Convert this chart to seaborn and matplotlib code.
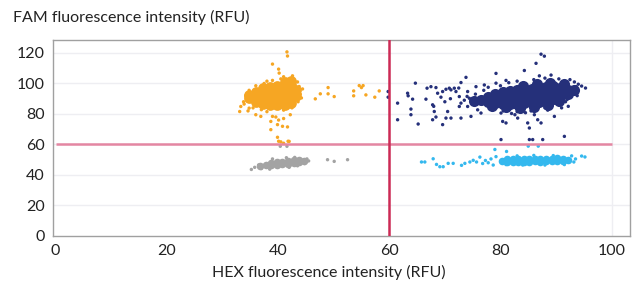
import numpy as np
import pandas as pd
import matplotlib.pyplot as plt
import seaborn as sns

# ── Data (HEX, FAM in RFU) ───────────────────────────────────────────────────

# dense centres of each cluster (drawn as larger, overlapping dots)
ORANGE_CORE = [
    (34.7, 90.5), (34.7, 92.5),
    (36.0, 88), (36.0, 91), (36.0, 94.5),
    (37.3, 86.5), (37.3, 89.5), (37.3, 92.5), (37.3, 95.5), (37.3, 97),
    (38.6, 86), (38.6, 89), (38.6, 92), (38.6, 95), (38.6, 98),
    (39.9, 86), (39.9, 89), (39.9, 92), (39.9, 95), (39.9, 98.5),
    (41.2, 86), (41.2, 89), (41.2, 92), (41.2, 95), (41.2, 98.5), (41.2, 101),
    (42.4, 87), (42.4, 90), (42.4, 93), (42.4, 96), (42.4, 99), (42.4, 101.5),
    (43.3, 92), (43.3, 95.5),
]
ORANGE_SPREAD = [
    (41.6, 120.7), (41.7, 118), (39.0, 112.7), (40.1, 109.4), (40.2, 106.8),
    (41.0, 104.4), (42.6, 105), (44.4, 96.4), (46.7, 89.9), (47.6, 93.2),
    (49.0, 97.3), (49.0, 93.2), (50.1, 91.4), (53.6, 95.1), (53.6, 91.9),
    (54.6, 98.6), (55.0, 97.3), (55.3, 98.6), (55.8, 92.5), (57.4, 91),
    (58.2, 95.1), (33.3, 84.9), (33.1, 81.6), (34.6, 82), (34.8, 83.8),
    (36.0, 79.5), (36.9, 78.4), (39.0, 78.4), (39.6, 78), (38.7, 75.1),
    (40.1, 76), (41.0, 77), (42.2, 79.5), (39.9, 73), (40.8, 71.9),
    (41.7, 71.5), (38.7, 69.7), (39.9, 64.7), (40.1, 62.1), (41.8, 62.1),
    (40.5, 61.7), (42.0, 62), (41.0, 60.8), (33.8, 88), (34.2, 92),
    (34.8, 95.5), (36.0, 98.5), (37.5, 100), (39.0, 102), (40.5, 103),
    (43.5, 101), (43.8, 98), (44.0, 93), (43.6, 88), (42.5, 84), (41.0, 82.5),
    (38.0, 81.5), (35.5, 84), (37.0, 82.8), (44.2, 90.5), (42.8, 102.5),
    (38.0, 101.5), (33.9, 86.5),
]

NAVY_CORE = [
    (75.2, 88.5), (76.5, 89.3), (77.8, 88), (77.8, 91),
    (79.1, 87), (79.1, 90), (79.1, 93),
    (80.4, 86.6), (80.4, 89.5), (80.4, 92.5), (80.4, 94.5),
    (81.7, 86.5), (81.7, 89.5), (81.7, 92.5), (81.7, 95),
    (83.0, 86.5), (83.0, 89.5), (83.0, 92.5), (83.0, 95.5),
    (84.3, 87), (84.3, 90), (84.3, 93), (84.3, 96),
    (85.6, 87.3), (85.6, 90.3), (85.6, 93.3), (85.6, 96.5),
    (86.9, 88), (86.9, 91), (86.9, 94), (86.9, 97.3),
    (88.2, 89), (88.2, 92), (88.2, 95), (88.2, 98),
    (89.5, 90), (89.5, 93), (89.5, 96), (89.5, 98.4),
    (90.8, 91.3), (90.8, 94.3), (90.8, 97.3),
    (92.1, 93), (92.1, 96), (93.2, 95.8),
    (78.5, 85.5), (81.0, 84.3), (83.5, 84), (86.0, 84.6), (88.5, 86.2),
    (90.5, 88.5), (84.0, 98.5), (86.5, 99.5), (89.0, 100.3), (91.5, 99.6),
]
NAVY_SPREAD = [
    (59.8, 94.7), (59.8, 91), (61.5, 87.1), (61.5, 76.2), (63.3, 93.6),
    (63.4, 91.9), (64.2, 89.7), (63.9, 83.2), (63.9, 79.5), (64.7, 100.2),
    (65.2, 73.4), (66.8, 96.9), (67.5, 97.9), (68.4, 97.3), (66.6, 89.7),
    (67.8, 86), (68.1, 81.6), (67.8, 76.2), (68.4, 78), (68.7, 93.6),
    (69.3, 91), (69.6, 94.7), (69.6, 73), (70.2, 96.2), (70.8, 96.9),
    (71.1, 95.8), (71.7, 96.9), (72.0, 94.7), (70.5, 81.6), (70.2, 77.3),
    (71.1, 77.3), (72.6, 91.4), (72.9, 87.1), (72.6, 84.9), (72.9, 100.6),
    (73.8, 104), (72.9, 77.3), (74.7, 78.4), (74.1, 94.7), (74.4, 90.3),
    (74.1, 84.9), (75.6, 97.9), (75.9, 82.7), (76.5, 80.6), (77.1, 99),
    (79.2, 106.6), (79.2, 100.2), (80.1, 80.6), (80.4, 75.1), (80.1, 63.2),
    (81.0, 74.1), (82.6, 79.5), (83.1, 77.3), (84.3, 108.5), (84.9, 74.1),
    (85.2, 63.2), (85.8, 63.2), (85.2, 70.8), (86.4, 113.2), (87.3, 119.2),
    (87.9, 117.9), (86.1, 79.5), (86.7, 76.2), (87.3, 74.1), (87.6, 63.2),
    (89.1, 105.5), (89.7, 78.4), (91.5, 65.3), (91.7, 88), (92.2, 85),
    (93.6, 97.9), (94.6, 98.3), (93.3, 101), (93.5, 95), (76.0, 87),
    (77.0, 95.5), (78.0, 83.5), (80.0, 98.5), (81.5, 100.5), (83.0, 101.5),
    (86.0, 102.5), (88.0, 103.5), (90.5, 103), (92.5, 102.5), (94.0, 99.5),
    (93.8, 92), (92.0, 89.5), (90.5, 86), (88.0, 84), (85.5, 82), (83.0, 81.5),
    (80.5, 82), (78.5, 85), (74.0, 91.5), (73.5, 89), (75.5, 93), (82.0, 80.3),
    (84.5, 80.8), (88.5, 82.5), (91.0, 84), (95.3, 97), (87.0, 105),
    (81.0, 102), (77.8, 97.5), (68.0, 85), (70.0, 88), (71.0, 90), (72.5, 97),
]

GREY_CORE = [
    (36.8, 45.8), (37.8, 46.2), (38.8, 46.5), (38.8, 48), (39.8, 46.7),
    (39.8, 48.3), (40.8, 47), (40.8, 48.8), (41.8, 47.4), (41.8, 49.2),
    (42.8, 47.9), (42.8, 49.6), (43.8, 48.5), (43.8, 49.9), (44.6, 49.3),
]
GREY_SPREAD = [
    (35.2, 43.6), (35.8, 45), (48.9, 50), (50.1, 48.9), (52.5, 50),
    (40.4, 58.8), (41.6, 58.8), (45.2, 50.5), (44.8, 47.5), (37.0, 44.2),
    (36.5, 46.5), (38.5, 43.8), (42.0, 45), (43.5, 46), (45.5, 49.2),
    (39.0, 50.5), (41.5, 51.3), (43.0, 51.5),
]

BLUE_CORE = [
    (80.2, 49), (81.2, 48.6), (81.2, 50.2), (82.2, 48.8), (82.2, 50.3),
    (83.2, 48.6), (83.2, 50.4), (84.2, 48.8), (84.2, 50.4), (85.2, 48.7),
    (85.2, 50.5), (86.2, 48.9), (86.2, 50.6), (87.2, 48.8), (87.2, 50.6),
    (88.2, 49), (88.2, 50.7), (89.2, 48.9), (89.2, 50.6), (90.2, 49.1),
    (90.2, 50.8), (91.2, 49.2), (91.2, 50.6), (92.2, 49.6),
]
BLUE_SPREAD = [
    (65.8, 48.5), (66.4, 48.5), (67.9, 50.6), (68.5, 46.9), (69.1, 45.4),
    (69.7, 45.4), (70.6, 47.6), (71.5, 47.6), (73.0, 46.3), (73.6, 47.6),
    (74.5, 48.5), (75.1, 49.6), (75.7, 48.5), (76.3, 51.7), (76.8, 47.5),
    (77.3, 49.5), (77.8, 48), (78.3, 50.5), (78.7, 46.5), (79.0, 56.7),
    (81.1, 55.4), (85.0, 58.9), (86.8, 58.9), (94.6, 52.4), (93.5, 50.5),
    (92.8, 52.5), (91.5, 46.8), (88.0, 46.5), (84.0, 46.5), (81.0, 46.8),
    (79.2, 52), (86.0, 52.8), (89.5, 52.7), (83.0, 52.5), (93.2, 48.5),
    (95.2, 51.8),
]

THRESHOLD_HEX = 60
THRESHOLD_FAM = 60

PALETTE = {
    "FAM+": "#F6A623",
    "FAM+HEX+": "#25307A",
    "neg": "#A3A3A3",
    "HEX+": "#34B8EE",
}
CORE_SIZE = {"FAM+": 60, "FAM+HEX+": 64, "neg": 30, "HEX+": 30}


def to_frame(points, cluster, layer):
    df = pd.DataFrame(points, columns=["HEX", "FAM"])
    df["cluster"] = cluster
    df["layer"] = layer
    return df


drops = pd.concat([
    to_frame(ORANGE_CORE, "FAM+", "core"),
    to_frame(ORANGE_SPREAD, "FAM+", "spread"),
    to_frame(NAVY_CORE, "FAM+HEX+", "core"),
    to_frame(NAVY_SPREAD, "FAM+HEX+", "spread"),
    to_frame(GREY_CORE, "neg", "core"),
    to_frame(GREY_SPREAD, "neg", "spread"),
    to_frame(BLUE_CORE, "HEX+", "core"),
    to_frame(BLUE_SPREAD, "HEX+", "spread"),
], ignore_index=True)

sns.set_style("white")
plt.rcParams["font.family"] = ["Lato", "DejaVu Sans"]

fig = plt.figure(figsize=(6.37, 2.92), dpi=100)
ax = fig.add_axes([0.083, 0.192, 0.906, 0.671])

for y in range(20, 121, 20):
    ax.axhline(y, color="#EEEEF2", linewidth=1, zorder=0)
ax.axvline(100, color="#EEEEF2", linewidth=1, zorder=0)

core = drops[drops["layer"] == "core"]
spread = drops[drops["layer"] == "spread"]
sns.scatterplot(data=spread, x="HEX", y="FAM", hue="cluster", palette=PALETTE,
                s=6, linewidth=0, legend=False, ax=ax, zorder=2)
for name, size in CORE_SIZE.items():
    sub = core[core["cluster"] == name]
    sns.scatterplot(data=sub, x="HEX", y="FAM", color=PALETTE[name],
                    s=size, linewidth=0, legend=False, ax=ax, zorder=3)

ax.hlines(THRESHOLD_FAM, 0, 100, color="#E486A2", linewidth=1.8, zorder=4)
ax.axvline(THRESHOLD_HEX, color="#CC2A55", linewidth=1.8, zorder=4)

ax.set_xlim(-0.5, 103.3)
ax.set_ylim(0, 128.5)
ax.set_xticks(range(0, 101, 20))
ax.set_yticks(range(0, 121, 20))
ax.tick_params(axis="both", length=0, labelsize=11.5, colors="#222222", pad=6)
ax.set_xlabel("")
ax.set_ylabel("")
fig.text(329 / 637, 1 - 272 / 292, "HEX fluorescence intensity (RFU)",
         fontsize=11.5, color="#222222", ha="center", va="center")
fig.text(0.02, 0.915, "FAM fluorescence intensity (RFU)", fontsize=11.5,
         color="#222222", ha="left", va="bottom")

for side in ["top", "right", "left", "bottom"]:
    ax.spines[side].set_visible(True)
    ax.spines[side].set_color("#A0A0A0")
    ax.spines[side].set_linewidth(1)

fig.savefig("out.png", dpi=100)
